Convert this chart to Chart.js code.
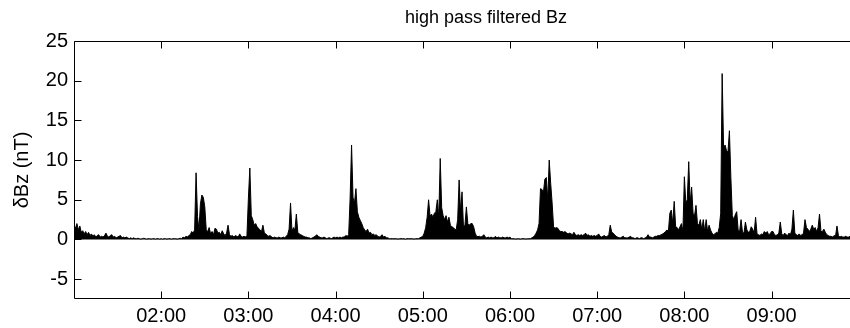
<!DOCTYPE html>
<html><head><meta charset="utf-8">
<script src="https://cdn.jsdelivr.net/npm/chart.js@4"></script>
<style>
html,body{margin:0;padding:0;background:#fff;overflow:hidden;width:850px;height:328px}
#wrap{position:relative;width:910px;height:328px}
</style></head><body>
<div id="wrap"><canvas id="c" width="910" height="328"></canvas></div>
<script>
// ---- data ----
const startTime = '01:00';            // time of first sample
const stepMinutes = 1;                 // sample spacing
const xMaxMinutes = 567;               // axis end (minutes after start)
const dBz = [
1.8,1.4,2.0,1.2,1.7,0.9,1.1,0.7,1.0,0.6,0.9,0.5,0.7,0.4,0.6,0.3,0.5,0.6,0.3,0.4,
0.3,0.5,0.8,0.4,0.3,0.5,0.6,0.3,0.4,0.2,0.3,0.4,0.5,0.2,0.3,0.2,0.3,0.2,0.1,0.2,
0.1,0.2,0.1,0.1,0.15,0.1,0.05,0.1,0.15,0.1,0.05,0.1,0.1,0.05,0.1,0.1,0.05,0.1,0.1,0.05,
0.1,0.05,0.1,0.1,0.05,0.1,0.1,0.05,0.1,0.1,0.1,0.05,0.1,0.15,0.1,0.3,0.2,0.4,0.3,0.5,
0.6,1.0,0.8,1.2,8.4,2.9,1.2,4.5,5.6,5.3,4.1,1.2,1.0,1.5,0.7,1.0,0.6,1.4,1.3,0.8,
0.9,0.6,1.1,0.7,0.5,0.8,1.8,0.6,0.4,0.5,0.3,0.5,0.4,0.3,0.7,0.4,0.3,0.4,0.3,0.5,
5.2,9.0,3.0,2.5,1.8,2.0,1.6,1.4,1.2,1.0,1.8,0.8,0.7,0.5,0.4,0.5,0.3,0.2,0.3,0.2,
0.2,0.3,0.2,0.2,0.3,0.2,0.4,0.6,1.3,4.6,1.0,1.5,1.2,3.2,0.9,0.7,0.6,0.5,0.4,0.3,
0.3,0.2,0.2,0.1,0.2,0.3,0.4,0.6,0.4,0.3,0.2,0.2,0.3,0.2,0.1,0.2,0.2,0.1,0.2,0.3,
0.2,0.3,0.2,0.3,0.2,0.3,0.3,0.5,0.4,0.6,5.2,11.9,5.3,4.6,6.4,3.5,2.8,2.4,2.0,1.5,
1.2,1.0,1.3,0.8,0.9,0.6,0.7,0.5,0.6,0.4,0.3,0.4,0.6,0.3,0.4,0.2,0.2,0.1,0.1,0.1,
0.1,0.1,0.1,0.05,0.1,0.1,0.1,0.1,0.05,0.1,0.1,0.1,0.1,0.1,0.05,0.1,0.1,0.1,0.2,0.3,
0.4,0.8,1.5,2.8,5.0,2.9,3.2,2.8,3.3,3.5,5.0,2.8,10.2,4.0,3.0,2.5,3.0,2.2,2.8,1.8,
1.6,1.5,1.3,1.2,2.5,7.5,3.5,6.0,1.6,1.8,4.1,2.0,1.8,2.0,2.0,1.6,0.8,0.4,0.35,0.4,
0.3,0.4,0.6,0.3,0.2,0.3,0.2,0.3,0.2,0.2,0.4,0.2,0.3,0.2,0.2,0.3,0.2,0.2,0.3,0.2,
0.3,0.1,0.1,0.1,0.05,0.1,0.1,0.05,0.1,0.1,0.1,0.05,0.1,0.1,0.1,0.2,0.3,0.5,0.8,1.2,
2.0,6.4,6.3,5.9,7.6,7.8,5.0,10.0,7.1,4.6,1.6,1.4,1.5,1.4,1.1,1.0,1.0,0.9,1.0,0.8,
0.7,0.8,0.7,0.6,0.9,0.6,0.5,0.6,0.5,0.6,0.5,0.6,0.8,0.5,0.6,0.4,0.5,0.4,0.5,0.4,
0.5,0.7,0.4,0.3,0.4,0.5,0.3,0.4,0.6,1.8,0.9,0.8,0.6,0.4,0.3,0.2,0.2,0.3,0.4,0.2,
0.2,
0.2,0.3,0.4,0.2,0.2,0.1,0.2,0.2,0.1,0.2,0.2,0.1,0.2,0.3,0.6,0.3,0.3,0.2,0.3,0.4,
0.4,0.5,0.5,0.6,0.7,0.8,1.0,1.2,1.0,3.3,3.7,2.0,4.8,1.6,1.5,1.2,1.6,2.0,1.0,7.9,
4.6,5.0,9.8,4.6,6.6,3.3,3.0,4.3,2.0,1.8,2.5,1.2,2.5,1.0,2.5,1.0,1.8,1.2,0.8,0.6,
0.7,0.9,0.8,1.5,3.3,20.9,11.5,11.9,11.2,11.0,13.7,7.8,3.0,2.5,3.1,3.5,1.2,1.0,2.5,0.9,
0.8,2.2,1.2,0.9,1.0,1.6,1.3,0.8,2.8,0.7,0.6,0.5,0.7,0.6,1.0,0.8,1.0,0.6,0.7,1.0,
1.0,0.6,0.5,0.6,0.8,2.2,0.7,0.5,0.8,0.6,0.5,0.8,0.6,1.3,3.7,0.8,0.6,0.5,0.7,0.5,
0.6,0.8,2.5,1.5,1.3,1.0,1.3,1.8,1.3,1.5,1.0,1.5,3.2,1.0,1.0,1.3,0.9,0.6,0.5,0.4,
0.4,0.3,0.5,0.4,1.7,0.5,0.3,0.4,0.3,0.3,0.4,0.3,0.3,0.4,0.3,0.3
];
const yTicks = [-5, 0, 5, 10, 15, 20, 25];
const yMin = -7.5, yMax = 25;
const xTickMinutes = [60, 120, 180, 240, 300, 360, 420, 480];
const xTickLabels = ['02:00', '03:00', '04:00', '05:00', '06:00', '07:00', '08:00', '09:00'];
const titleText = 'high pass filtered Bz';
const yLabel = 'δBz (nT)';

// ---- chart ----
Chart.defaults.font.family = "'Liberation Sans', Arial, Helvetica, sans-serif";
Chart.defaults.color = '#000';

const boxTicks = {
  id: 'boxTicks',
  afterDatasetsDraw(chart) {
    const {ctx, chartArea: a, scales: {x, y}} = chart;
    ctx.save();
    ctx.strokeStyle = '#000';
    ctx.lineWidth = 1;
    ctx.beginPath();
    const L = Math.round(a.left) + 0.5, R = Math.round(a.right) - 0.5;
    const T = Math.round(a.top) + 0.5, B = Math.round(a.bottom) - 0.5;
    ctx.moveTo(L, T); ctx.lineTo(R, T); ctx.lineTo(R, B); ctx.lineTo(L, B); ctx.closePath();
    const len = 7;
    xTickMinutes.forEach(v => {
      const px = Math.round(x.getPixelForValue(v)) + 0.5;
      ctx.moveTo(px, B); ctx.lineTo(px, B - len);
      ctx.moveTo(px, T); ctx.lineTo(px, T + len);
    });
    yTicks.forEach(v => {
      const py = Math.round(y.getPixelForValue(v)) + 0.5;
      ctx.moveTo(L, py); ctx.lineTo(L + len, py);
      ctx.moveTo(R, py); ctx.lineTo(R - len, py);
    });
    ctx.stroke();
    ctx.restore();
  }
};

new Chart(document.getElementById('c'), {
  type: 'line',
  data: {
    datasets: [{
      label: 'δBz',
      data: dBz.map((v, i) => ({x: i * stepMinutes, y: v})),
      borderColor: '#000',
      backgroundColor: '#000',
      borderWidth: 1,
      pointRadius: 0,
      tension: 0,
      fill: 'origin'
    }]
  },
  options: {
    responsive: false,
    animation: false,
    devicePixelRatio: 1,
    layout: {padding: {left: 0, right: 12, top: 0, bottom: 0}},
    plugins: {
      legend: {display: false},
      tooltip: {enabled: false},
      title: {
        display: true, text: titleText, fullSize: false,
        font: {size: 18, weight: 'normal'}, color: '#000',
        padding: {top: 7, bottom: 12.4}
      }
    },
    scales: {
      x: {
        type: 'linear', min: 0, max: xMaxMinutes,
        grid: {display: false, drawTicks: false},
        border: {display: false},
        afterBuildTicks: s => { s.ticks = xTickMinutes.map(v => ({value: v})); },
        afterFit: s => { s.height = 29; },
        ticks: {
          autoSkip: false, maxRotation: 0, padding: 5,
          font: {size: 20}, color: '#000',
          callback: v => { const i = xTickMinutes.indexOf(v); return i >= 0 ? xTickLabels[i] : ''; }
        }
      },
      y: {
        min: yMin, max: yMax,
        grid: {display: false, drawTicks: false},
        border: {display: false},
        afterBuildTicks: s => { s.ticks = yTicks.map(v => ({value: v})); },
        afterFit: s => { s.width = 74; },
        ticks: {padding: 6, font: {size: 20}, color: '#000'},
        title: {display: true, text: yLabel, font: {size: 20}, color: '#000', padding: {top: 10, bottom: 0}}
      }
    }
  },
  plugins: [boxTicks]
});
</script>
</body></html>
